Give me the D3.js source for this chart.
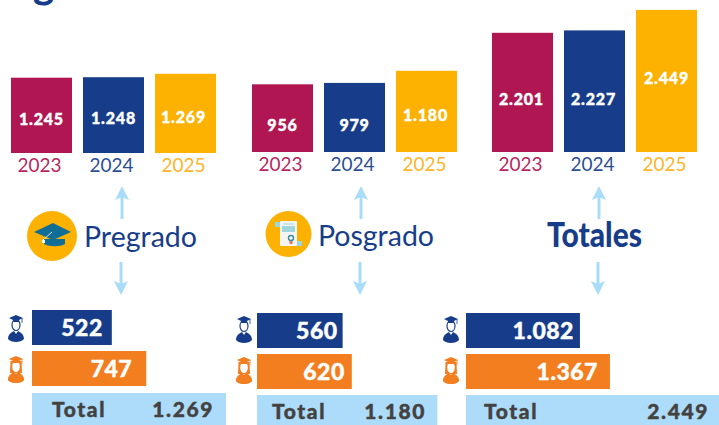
<!DOCTYPE html>
<html>
<head>
<meta charset="utf-8">
<script src="https://cdn.jsdelivr.net/npm/d3@7"></script>
<style>
html, body { margin: 0; padding: 0; background: #fff; }
svg { display: block; }
.yr text { font-family: Lato, sans-serif; font-weight: 400; font-size: 19px; }
.val { font-family: Lato, sans-serif; font-weight: 900; fill: #fff; stroke: #fff; stroke-width: 0.4px; }
.ttl { font-family: Lato, sans-serif; font-weight: 900; fill: #444141; stroke: #444141; stroke-width: 0.4px; letter-spacing: 1.6px; }
</style>
</head>
<body>
<svg id="chart" width="719" height="425"></svg>
<script>
const years = ["2023", "2024", "2025"];
const pregradoYears = [1245, 1248, 1269];
const posgradoYears = [956, 979, 1180];
const totalesYears = [2201, 2227, 2449];
const pregradoSplit = [522, 747];
const posgradoSplit = [560, 620];
const totalesSplit = [1082, 1367];
const pregradoTotal = 1269;
const posgradoTotal = 1180;
const totalesTotal = 2449;

const yearColors = ["#b01752", "#173d8a", "#fdb100"];
const splitColors = ["#173d8a", "#f27e20"];
const yearTextColors = ["#b5285f", "#2c4f94", "#fdb52a"];
const arrowColor = "#a9dcf9";
const totalBg = "#acdcf9";

const es = d3.formatLocale({ decimal: ",", thousands: ".", grouping: [3], currency: ["", ""] });
const fmt = es.format(",d");

// the bars of the source are not on one shared scale, so each block has its own
const panels = [
  { name: "Pregrado", vals: pregradoYears, split: pregradoSplit, total: pregradoTotal,
    x0: 11, base: 153, dom: [1245, 1269], hgt: [75.3, 79.2], labelY: [119, 118.5, 117.5], labelDx: [0, 0, -2],
    hx: 32, hy: [310, 351, 393], perUnit: 0.1529, arrowX: 122, iconY: 328, totalX: [52, 214], splitDx: [9, 14] },
  { name: "Posgrado", vals: posgradoYears, split: posgradoSplit, total: posgradoTotal,
    x0: 252, base: 152, dom: [956, 1180], hgt: [67.7, 81.2], labelY: [125, 125, 115], labelDx: [0, 0, -1],
    hx: 257, hy: [313, 354, 395], perUnit: 0.1529, arrowX: 361, iconY: 329, totalX: [272, 426], splitDx: [5, 7] },
  { name: "Totales", vals: totalesYears, split: totalesSplit, total: totalesTotal,
    x0: 492, base: 152, dom: [2201, 2449], hgt: [119.2, 142.1], labelY: [99, 99, 78], labelDx: [-1, -1, 0],
    hx: 466, hy: [313, 354, 395], perUnit: 0.1053, arrowX: 599, iconY: 329, totalX: [484, 709], splitDx: [6, 12] }
];
const iconX = [16, 244, 451];

const svg = d3.select("#chart");

// title runs off the top edge of the crop, only the descender of its g is left
svg.append("text").text("g")
  .attr("x", 33).attr("y", -2)
  .attr("font-family", "Lato, sans-serif").attr("font-weight", 900).attr("font-size", 40)
  .attr("fill", "#173d8a");

function arrow(x, y1, y2) {
  const dir = y2 > y1 ? 1 : -1;
  svg.append("line").attr("x1", x).attr("x2", x).attr("y1", y1).attr("y2", y2 - dir * 8)
    .attr("stroke", arrowColor).attr("stroke-width", 3);
  svg.append("path").attr("d", d3.line()([[x - 7, y2 - dir * 14], [x, y2], [x + 7, y2 - dir * 14], [x, y2 - dir * 11]]))
    .attr("fill", arrowColor);
}

function person(x, y, color, hair) {
  const g = svg.append("g").attr("transform", "translate(" + x + "," + y + ")").attr("fill", color);
  // gown
  g.append("path").attr("d", "M-8,15 C-8,10 -4,8 -2,7 L0,10 L2,7 C4,8 8,10 8,15 C5,19 -5,19 -8,15 Z");
  if (hair) {
    g.append("path").attr("d", "M-5.5,-4 L5.5,-4 L6,8 L-6,8 Z");
    g.append("ellipse").attr("cx", 0).attr("cy", 1.5).attr("rx", 3.8).attr("ry", 5.5).attr("fill", "#fff");
    g.append("path").attr("d", "M-8,15 C-8,11 -4,9 -2,8.5 L2,8.5 C4,9 8,11 8,15 C5,19 -5,19 -8,15 Z");
  } else {
    g.append("ellipse").attr("cx", 0).attr("cy", 1).attr("rx", 4).attr("ry", 5.5).attr("fill", "#fff").attr("stroke", color).attr("stroke-width", 1.2);
  }
  // cap
  g.append("path").attr("d", "M-7,-6 L0,-9 L7,-6 L3,-4 L3,-2 L-3,-2 L-3,-4 Z");
  g.append("line").attr("x1", 6).attr("x2", 6).attr("y1", -6).attr("y2", -1).attr("stroke", color).attr("stroke-width", 0.8);
}

panels.forEach(function (p, i) {
  const x = d3.scaleBand().domain(years).range([p.x0, p.x0 + 205]).paddingInner(0.1528).paddingOuter(0);
  const h = d3.scaleLinear().domain(p.dom).range(p.hgt);

  const bars = svg.append("g");
  bars.selectAll("rect").data(p.vals).enter().append("rect")
    .attr("x", function (d, j) { return x(years[j]); })
    .attr("y", function (d) { return p.base - h(d); })
    .attr("width", x.bandwidth())
    .attr("height", function (d) { return h(d); })
    .attr("fill", function (d, j) { return yearColors[j]; });

  bars.selectAll("text").data(p.vals).enter().append("text")
    .attr("class", "val")
    .attr("x", function (d, j) { return x(years[j]) + x.bandwidth() / 2 + p.labelDx[j]; })
    .attr("y", function (d, j) { return p.labelY[j]; })
    .attr("dy", "0.35em")
    .attr("text-anchor", "middle")
    .attr("font-size", 16)
    .attr("letter-spacing", 0.8)
    .text(fmt);

  const axis = svg.append("g").attr("class", "yr")
    .attr("transform", "translate(-2," + (p.base + 2) + ")")
    .call(d3.axisBottom(x).tickSize(0).tickPadding(3));
  axis.select(".domain").remove();
  axis.selectAll("text").attr("fill", function (d, j) { return yearTextColors[j]; });

  arrow(p.arrowX, 219, 186);
  arrow(p.arrowX - 1, 262, 295);

  const w = d3.scaleLinear().domain([0, 1]).range([0, p.perUnit]);
  const split = svg.append("g");
  split.selectAll("rect").data(p.split).enter().append("rect")
    .attr("x", p.hx)
    .attr("y", function (d, j) { return p.hy[j]; })
    .attr("width", function (d) { return w(d); })
    .attr("height", 35)
    .attr("fill", function (d, j) { return splitColors[j]; });
  split.selectAll("text").data(p.split).enter().append("text")
    .attr("class", "val")
    .attr("x", function (d, j) { return p.hx + w(d) - p.splitDx[j]; })
    .attr("y", function (d, j) { return p.hy[j] + 18; })
    .attr("dy", "0.35em")
    .attr("text-anchor", "end")
    .attr("font-size", 23)
    .attr("letter-spacing", 0.5)
    .text(fmt);

  svg.append("rect")
    .attr("x", p.hx).attr("y", p.hy[2])
    .attr("width", w(p.total)).attr("height", 425 - p.hy[2])
    .attr("fill", totalBg);
  svg.append("text").attr("class", "ttl")
    .attr("x", p.totalX[0]).attr("y", p.hy[2] + 17).attr("dy", "0.35em")
    .attr("font-size", 21).text("Total");
  svg.append("text").attr("class", "ttl")
    .attr("x", p.totalX[1]).attr("y", p.hy[2] + 17).attr("dy", "0.35em")
    .attr("text-anchor", "end").attr("font-size", 21).text(fmt(p.total));

  person(iconX[i], p.iconY - 4, splitColors[0], false);
  person(iconX[i], p.iconY + 37, splitColors[1], true);
});

// block titles
const titleStyle = function (sel) {
  return sel.attr("font-family", "Lato, sans-serif").attr("fill", "#173d8a");
};
titleStyle(svg.append("text")).attr("x", 84).attr("y", 247).attr("font-size", 28.5).attr("font-weight", 400).text("Pregrado");
titleStyle(svg.append("text")).attr("x", 318).attr("y", 246).attr("font-size", 28.5).attr("font-weight", 400).text("Posgrado");
titleStyle(svg.append("text")).attr("x", 547).attr("y", 246.5).attr("font-size", 34).attr("font-weight", 900)
  .attr("textLength", 95).attr("lengthAdjust", "spacingAndGlyphs").text("Totales");

// Pregrado badge
svg.append("circle").attr("cx", 52).attr("cy", 236).attr("r", 25).attr("fill", "#fdb100");
svg.append("path").attr("d", "M44,239 L44,244 C50,247 60,247 65,244 L65,239 Z").attr("fill", "#0f6d96");
svg.append("path").attr("d", "M34,232 L53,223 L71,232 L53,240 Z").attr("fill", "#0f6d96");
svg.append("line").attr("x1", 43).attr("y1", 240).attr("x2", 52).attr("y2", 232).attr("stroke", "#fff").attr("stroke-width", 0.8);
svg.append("rect").attr("x", 42).attr("y", 240).attr("width", 3).attr("height", 3).attr("fill", "#fff");

// Posgrado badge
svg.append("circle").attr("cx", 288.5).attr("cy", 234).attr("r", 23).attr("fill", "#fdb100");
svg.append("rect").attr("x", 280).attr("y", 221).attr("width", 17).attr("height", 25).attr("rx", 1).attr("fill", "#f4f4f2");
svg.append("rect").attr("x", 282).attr("y", 226).attr("width", 13).attr("height", 6).attr("fill", "#9ed6dc");
svg.append("rect").attr("x", 283).attr("y", 223.5).attr("width", 11).attr("height", 1).attr("fill", "#9ed6dc");
svg.append("rect").attr("x", 275).attr("y", 222).attr("width", 5).attr("height", 5).attr("fill", "#9ed6dc");
svg.append("rect").attr("x", 297).attr("y", 241).attr("width", 5).attr("height", 5).attr("fill", "#9ed6dc");
svg.append("circle").attr("cx", 291).attr("cy", 238).attr("r", 2.5).attr("fill", "#fff").attr("stroke", "#3e87a8").attr("stroke-width", 1.4);
svg.append("rect").attr("x", 289.5).attr("y", 241).attr("width", 3).attr("height", 3).attr("fill", "#e2765a");
</script>
</body>
</html>
